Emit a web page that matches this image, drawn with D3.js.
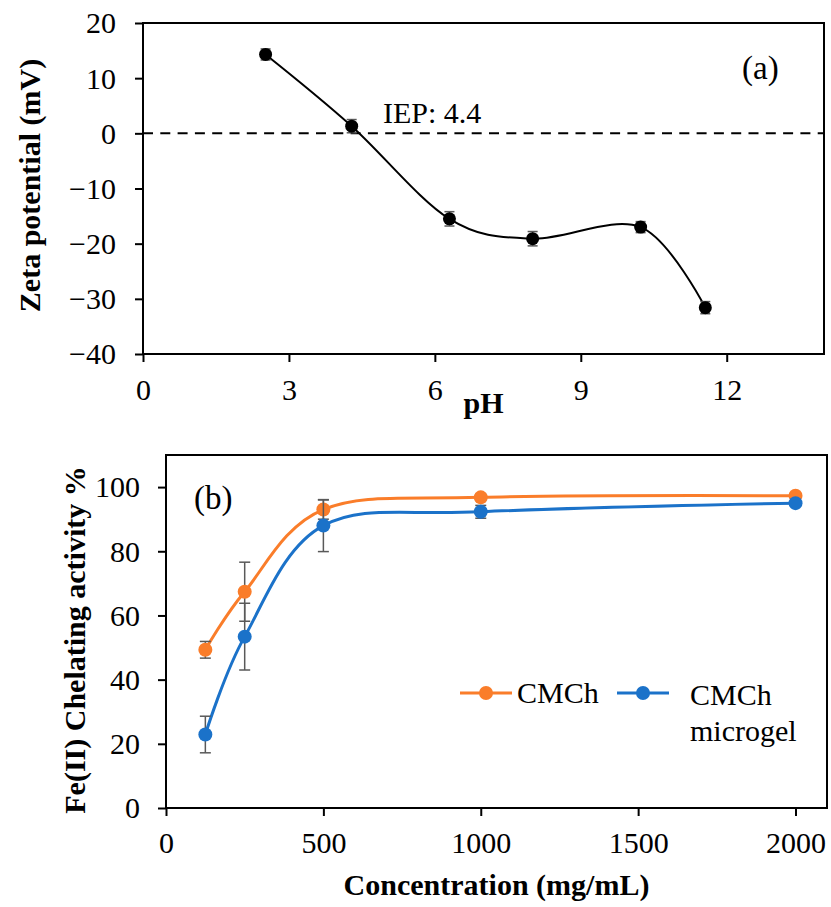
<!DOCTYPE html>
<html>
<head>
<meta charset="utf-8">
<script src="https://cdn.jsdelivr.net/npm/d3@7"></script>
<style>
  html, body { margin: 0; padding: 0; background: #fff; }
  svg { display: block; }
  text { font-family: "Liberation Serif", "Times New Roman", serif; fill: #000; }
</style>
</head>
<body>
<svg id="fig" width="831" height="907"></svg>
<script>
// ---- (a) zeta potential vs pH ----
const pH = [2.52, 4.29, 6.30, 8.01, 10.23, 11.56];
const zeta = [14.3, 1.3, -15.5, -19.1, -17.0, -31.6];
const zetaErr = [1.0, 1.2, 1.3, 1.3, 1.0, 1.1];
const pHTicks = [0, 3, 6, 9, 12];
const zetaTicks = [-40, -30, -20, -10, 0, 10, 20];
const iepLabel = "IEP: 4.4";

// ---- (b) Fe(II) chelating activity vs concentration ----
const concentration = [125, 250, 500, 1000, 2000];
const cmch = [49.3, 67.4, 93.0, 96.8, 97.3];
const cmchErr = [2.6, 9.2, 3.0, 1.0, 0.6];
const microgel = [22.9, 53.4, 88.0, 92.3, 95.0];
const microgelErr = [5.7, 10.4, 8.1, 2.0, 0.8];
const concTicks = [0, 500, 1000, 1500, 2000];
const chelTicks = [0, 20, 40, 60, 80, 100];
const seriesNames = ["CMCh", "CMCh\nmicrogel"];
const seriesColors = ["#FA7D2A", "#1B72C9"];

const svg = d3.select("#fig");
const FS = 30;
const errColor = "#595959";

function styleAxis(g, kind, base) {
  g.select(".domain").remove();
  g.selectAll(".tick line").attr("stroke", "#000").attr("stroke-width", 2);
  g.selectAll(".tick text").attr("font-size", FS).attr("font-family", "Liberation Serif");
  if (kind === "x") {
    g.selectAll(".tick text").attr("y", base).attr("dy", 0);
  } else {
    g.selectAll(".tick text").attr("x", -base).attr("dy", "0.33em");
  }
}

function frame(x0, y0, x1, y1) {
  svg.append("rect")
    .attr("x", x0).attr("y", y0).attr("width", x1 - x0).attr("height", y1 - y0)
    .attr("fill", "none").attr("stroke", "#000").attr("stroke-width", 2);
}

const minus = s => String(s).replace("-", "\u2212");

// ================= Panel (a) =================
{
  const L = 143, R = 824, T = 23, B = 354;
  const x = d3.scaleLinear().domain([0, 14]).range([L, R]);
  const y = d3.scaleLinear().domain([-40, 20]).range([B, T]);

  svg.append("g").attr("transform", `translate(0,${B})`)
    .call(d3.axisBottom(x).tickValues(pHTicks).tickSize(8).tickSizeOuter(0).tickFormat(d3.format("d")))
    .call(g => styleAxis(g, "x", 46));
  svg.append("g").attr("transform", `translate(${L},0)`)
    .call(d3.axisLeft(y).tickValues(zetaTicks).tickSize(8).tickSizeOuter(0).tickFormat(d => minus(d)))
    .call(g => styleAxis(g, "y", 27));

  // zero reference line
  svg.append("line")
    .attr("x1", L).attr("x2", R).attr("y1", y(0)).attr("y2", y(0))
    .attr("stroke", "#000").attr("stroke-width", 2).attr("stroke-dasharray", "10,7.3");

  frame(L, T, R, B);

  const pts = pH.map((p, i) => [p, zeta[i], zetaErr[i]]);
  const line = d3.line().x(d => x(d[0])).y(d => y(d[1])).curve(d3.curveCardinal.tension(0));
  svg.append("path").datum(pts).attr("d", line)
    .attr("fill", "none").attr("stroke", "#000").attr("stroke-width", 2);

  const eb = svg.append("g").attr("stroke", errColor).attr("stroke-width", 1.5);
  pts.forEach(d => {
    const cx = x(d[0]);
    eb.append("line").attr("x1", cx).attr("x2", cx).attr("y1", y(d[1] - d[2])).attr("y2", y(d[1] + d[2]));
    [d[1] - d[2], d[1] + d[2]].forEach(v => {
      eb.append("line").attr("x1", cx - 5).attr("x2", cx + 5).attr("y1", y(v)).attr("y2", y(v));
    });
  });

  svg.append("g").selectAll("circle").data(pts).join("circle")
    .attr("cx", d => x(d[0])).attr("cy", d => y(d[1])).attr("r", 6.5).attr("fill", "#000");

  svg.append("text").attr("x", 383).attr("y", 123).attr("font-size", FS).text(iepLabel);
  svg.append("text").attr("x", 742).attr("y", 79).attr("font-size", 33).text("(a)");

  svg.append("text").attr("x", (L + R) / 2).attr("y", 413).attr("text-anchor", "middle")
    .attr("font-size", FS).attr("font-weight", "bold").text("pH");
  svg.append("text").attr("transform", `translate(40,${(T + B) / 2 - 3}) rotate(-90)`)
    .attr("text-anchor", "middle").attr("font-size", FS).attr("font-weight", "bold")
    .text("Zeta potential (mV)");
}

// ================= Panel (b) =================
{
  const L = 166, R = 827, T = 455, B = 808;
  const x = d3.scaleLinear().domain([0, 2100]).range([L, R]);
  const y = d3.scaleLinear().domain([0, 110]).range([B, T]);

  svg.append("g").attr("transform", `translate(0,${B})`)
    .call(d3.axisBottom(x).tickValues(concTicks).tickSize(8).tickSizeOuter(0).tickFormat(d3.format("d")))
    .call(g => styleAxis(g, "x", 45));
  svg.append("g").attr("transform", `translate(${L},0)`)
    .call(d3.axisLeft(y).tickValues(chelTicks).tickSize(8).tickSizeOuter(0).tickFormat(d3.format("d")))
    .call(g => styleAxis(g, "y", 26));

  frame(L, T, R, B);

  const series = [
    { vals: cmch, err: cmchErr, color: seriesColors[0] },
    { vals: microgel, err: microgelErr, color: seriesColors[1] }
  ];
  const line = d3.line().x(d => x(d[0])).y(d => y(d[1])).curve(d3.curveCardinal.tension(0));

  series.forEach(s => {
    const pts = concentration.map((c, i) => [c, s.vals[i], s.err[i]]);
    svg.append("path").datum(pts).attr("d", line)
      .attr("fill", "none").attr("stroke", s.color).attr("stroke-width", 3);
  });
  series.forEach(s => {
    const pts = concentration.map((c, i) => [c, s.vals[i], s.err[i]]);
    const eb = svg.append("g").attr("stroke", errColor).attr("stroke-width", 1.5);
    pts.forEach(d => {
      const cx = x(d[0]);
      eb.append("line").attr("x1", cx).attr("x2", cx).attr("y1", y(d[1] - d[2])).attr("y2", y(d[1] + d[2]));
      [d[1] - d[2], d[1] + d[2]].forEach(v => {
        eb.append("line").attr("x1", cx - 5.5).attr("x2", cx + 5.5).attr("y1", y(v)).attr("y2", y(v));
      });
    });
    svg.append("g").selectAll("circle").data(pts).join("circle")
      .attr("cx", d => x(d[0])).attr("cy", d => y(d[1])).attr("r", 7).attr("fill", s.color);
  });

  svg.append("text").attr("x", 194).attr("y", 509).attr("font-size", 33).text("(b)");

  // legend
  const legendPos = [{ x: 460, y: 693, tx: 517, ty: 703 }, { x: 617, y: 693, tx: 690, ty: 705 }];
  seriesNames.forEach((name, i) => {
    const p = legendPos[i];
    svg.append("line").attr("x1", p.x).attr("x2", p.x + 52).attr("y1", p.y).attr("y2", p.y)
      .attr("stroke", seriesColors[i]).attr("stroke-width", 3);
    svg.append("circle").attr("cx", p.x + 26).attr("cy", p.y).attr("r", 7).attr("fill", seriesColors[i]);
    const t = svg.append("text").attr("x", p.tx).attr("y", p.ty).attr("font-size", FS);
    name.split("\n").forEach((part, k) => {
      t.append("tspan").attr("x", p.tx).attr("dy", k === 0 ? 0 : 36).text(part);
    });
  });

  svg.append("text").attr("x", (L + R) / 2).attr("y", 895).attr("text-anchor", "middle")
    .attr("font-size", FS).attr("font-weight", "bold").text("Concentration (mg/mL)");
  svg.append("text").attr("transform", `translate(85,640) rotate(-90)`)
    .attr("text-anchor", "middle").attr("font-size", FS).attr("font-weight", "bold")
    .text("Fe(II) Chelating activity %");
}
</script>
</body>
</html>
